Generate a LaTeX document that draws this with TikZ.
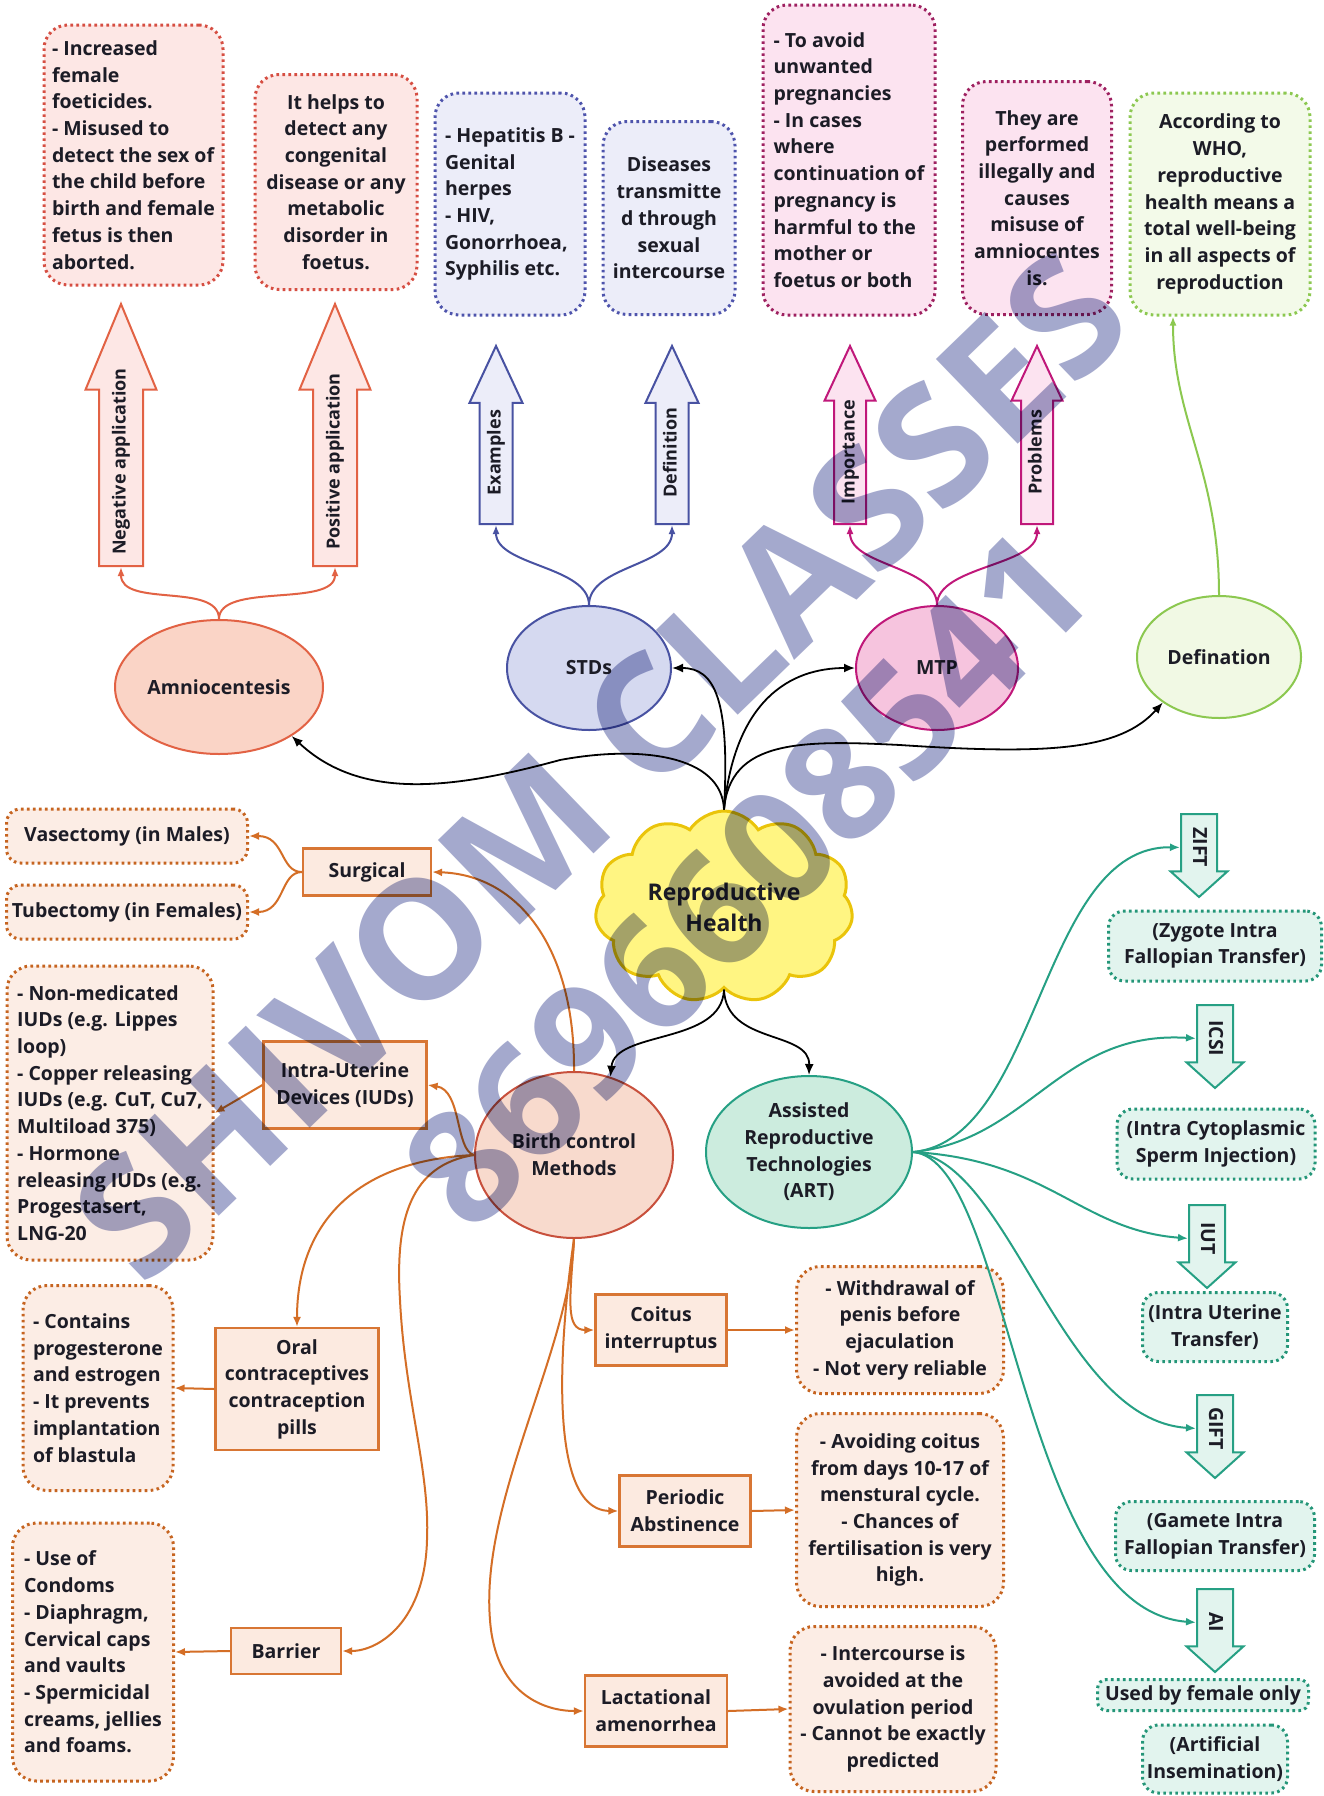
\documentclass[tikz,border=0pt]{standalone}
\usepackage{fontspec}
\setmainfont{Open Sans}
\usetikzlibrary{arrows.meta,shapes.geometric,shapes.arrows,shapes.symbols}

\definecolor{inkColor}{RGB}{28,28,38}
\definecolor{amnioLine}{RGB}{226,98,68}
\definecolor{amnioFill}{RGB}{250,212,198}
\definecolor{amnioNote}{RGB}{253,231,229}
\definecolor{amnioDot}{RGB}{214,78,66}
\definecolor{stdLine}{RGB}{72,82,162}
\definecolor{stdFill}{RGB}{213,217,240}
\definecolor{stdNote}{RGB}{236,237,249}
\definecolor{stdDot}{RGB}{78,84,172}
\definecolor{mtpLine}{RGB}{192,24,122}
\definecolor{mtpFill}{RGB}{246,196,222}
\definecolor{mtpNote}{RGB}{252,227,240}
\definecolor{mtpDot}{RGB}{158,32,96}
\definecolor{defLine}{RGB}{140,200,80}
\definecolor{defFill}{RGB}{241,249,228}
\definecolor{defNote}{RGB}{243,250,233}
\definecolor{cloudLine}{RGB}{234,196,10}
\definecolor{cloudFill}{RGB}{255,245,130}
\definecolor{bcLine}{RGB}{200,80,60}
\definecolor{bcFill}{RGB}{248,218,205}
\definecolor{bcArr}{RGB}{212,110,38}
\definecolor{bcBox}{RGB}{216,118,52}
\definecolor{bcBoxFill}{RGB}{252,234,224}
\definecolor{bcDot}{RGB}{198,100,32}
\definecolor{bcNote}{RGB}{252,237,229}
\definecolor{artLine}{RGB}{38,160,132}
\definecolor{artFill}{RGB}{204,236,222}
\definecolor{artNote}{RGB}{226,244,238}
\definecolor{artDot}{RGB}{36,150,120}
\definecolor{wmColor}{RGB}{164,169,205}

\tikzset{
  txt/.style={text=inkColor,font=\bfseries\fontsize{19.5}{26.7}\selectfont},
  note/.style={txt,draw,line width=3pt,dash pattern=on 2.6pt off 3.4pt,rounded corners=24pt,inner sep=0pt},
  topic/.style={txt,ellipse,draw,line width=2pt,inner sep=0pt,align=center},
  bcbox/.style={txt,draw=bcBox,fill=bcBoxFill,line width=2.2pt,inner sep=0pt,align=center},
  uparr/.style={single arrow,draw,line width=2pt,rotate=90,anchor=tail,text=inkColor,
    font=\bfseries\fontsize{18}{18}\selectfont,text height=13pt,text depth=4pt,inner xsep=3pt},
  downarr/.style={single arrow,draw=artLine,fill=artNote,line width=2pt,rotate=-90,anchor=tail,text=inkColor,
    font=\bfseries\fontsize{19.5}{19.5}\selectfont,text height=14pt,text depth=2pt,inner ysep=9pt,inner xsep=3pt,
    minimum height=83pt,single arrow head extend=10.5pt,single arrow tip angle=96},
  blk/.style={draw=black,line width=1.8pt,-{Latex[length=11pt,width=9pt]}},
  orarr/.style={draw=bcArr,line width=2pt,-{Latex[length=10pt,width=8pt]}},
  tlarr/.style={draw=artLine,line width=2pt,-{Latex[length=10pt,width=8pt]}},
  wmark/.style={text=wmColor,font=\bfseries\fontsize{165}{165}\selectfont,inner sep=0pt}
}

\begin{document}
\begin{tikzpicture}[x=1pt,y=-1pt]
\path[use as bounding box,fill=white] (0,0) rectangle (1323,1796);

\node[note,draw=amnioDot,fill=amnioNote,minimum width=179pt,minimum height=260pt,align=left] (negnote) at (133.5,155) {- Increased\\female\\foeticides.\\- Misused to\\detect the sex of\\the child before\\birth and female\\fetus is then\\aborted.};

\node[note,draw=amnioDot,fill=amnioNote,minimum width=162pt,minimum height=215pt,align=center] (posnote) at (336,182) {It helps to\\detect any\\congenital\\disease or any\\metabolic\\disorder in\\foetus.};

\node[note,draw=stdDot,fill=stdNote,minimum width=150pt,minimum height=222pt,align=left] (hepnote) at (510,204) {- Hepatitis B -\\Genital\\herpes\\- HIV,\\Gonorrhoea,\\Syphilis etc.};

\node[note,draw=stdDot,fill=stdNote,minimum width=132pt,minimum height=193pt,align=center] (disnote) at (669,218) {Diseases\\transmitte\\d through\\sexual\\intercourse};

\node[note,draw=mtpDot,fill=mtpNote,minimum width=172pt,minimum height=310pt,align=left] (impnote) at (849,160) {- To avoid\\unwanted\\pregnancies\\- In cases\\where\\continuation of\\pregnancy is\\harmful to the\\mother or\\foetus or both};

\node[note,draw=mtpDot,fill=mtpNote,minimum width=149pt,minimum height=233pt,align=center] (probnote) at (1037,198) {They are\\performed\\illegally and\\causes\\misuse of\\amniocentes\\is.};

\node[note,draw=defLine,fill=defNote,minimum width=180pt,minimum height=222pt,align=center] (whonote) at (1220,204) {According to\\WHO,\\reproductive\\health means a\\total well-being\\in all aspects of\\reproduction};

\node[uparr,draw=amnioLine,fill=amnioNote,minimum height=262pt,inner ysep=12.5pt,single arrow head extend=13.5pt,single arrow tip angle=45] (neg) at (121,567) {Negative application};

\node[uparr,draw=amnioLine,fill=amnioNote,minimum height=262pt,inner ysep=12.5pt,single arrow head extend=13.5pt,single arrow tip angle=45] (pos) at (335,567) {Positive application};

\node[uparr,draw=stdLine,fill=stdNote,minimum height=178pt,inner ysep=7pt,single arrow head extend=10pt,single arrow tip angle=50] (exa) at (496,525) {Examples};

\node[uparr,draw=stdLine,fill=stdNote,minimum height=178pt,inner ysep=7pt,single arrow head extend=10pt,single arrow tip angle=50] (dfn) at (672,525) {Definition};

\node[uparr,draw=mtpLine,fill=mtpNote,minimum height=178pt,inner ysep=6.5pt,single arrow head extend=9.5pt,single arrow tip angle=50] (imp) at (850,525) {Importance};

\node[uparr,draw=mtpLine,fill=mtpNote,minimum height=178pt,inner ysep=6.5pt,single arrow head extend=9.5pt,single arrow tip angle=50] (prob) at (1037,525) {Problems};

\node[topic,draw=amnioLine,fill=amnioFill,minimum width=208pt,minimum height=134pt] (amnio) at (219,687) {Amniocentesis};

\node[topic,draw=stdLine,fill=stdFill,minimum width=164pt,minimum height=124pt] (stds) at (589,668) {STDs};

\node[topic,draw=mtpLine,fill=mtpFill,minimum width=162pt,minimum height=124pt] (mtp) at (937,668) {MTP};

\node[topic,draw=defLine,fill=defFill,minimum width=164pt,minimum height=122pt] (defn) at (1219,657) {Defination};

\node[cloud,cloud puffs=11,cloud puff arc=115,aspect=1.34,draw=cloudLine,fill=cloudFill,line width=3pt,minimum width=258pt,minimum height=192pt,inner sep=0pt,align=center,text=inkColor,font=\bfseries\fontsize{23}{31}\selectfont] (rh) at (724,907) {Reproductive\\Health};

\node[topic,draw=bcLine,fill=bcFill,minimum width=198pt,minimum height=166pt] (bc) at (574,1155) {Birth control\\Methods};

\node[topic,draw=artLine,fill=artFill,minimum width=206pt,minimum height=152pt] (art) at (809,1152) {Assisted\\Reproductive\\Technologies\\(ART)};

\node[note,draw=bcDot,fill=bcNote,minimum width=241pt,minimum height=54pt,rounded corners=14pt] (vasnote) at (127,836) {Vasectomy (in Males)};

\node[note,draw=bcDot,fill=bcNote,minimum width=241pt,minimum height=54pt,rounded corners=14pt] (tubnote) at (127,912) {Tubectomy (in Females)};

\node[bcbox,minimum width=128pt,minimum height=47pt] (surg) at (367,872) {Surgical};

\node[bcbox,minimum width=163pt,minimum height=87pt] (iud) at (345,1085) {Intra-Uterine\\Devices (IUDs)};

\node[note,draw=bcDot,fill=bcNote,minimum width=206pt,minimum height=294pt,align=left] (iudnote) at (110,1113) {- Non-medicated\\IUDs (e.g. Lippes\\loop)\\- Copper releasing\\IUDs (e.g. CuT, Cu7,\\Multiload 375)\\- Hormone\\releasing IUDs (e.g.\\Progestasert,\\LNG-20};

\node[bcbox,minimum width=163pt,minimum height=122pt] (oral) at (297,1389) {Oral\\contraceptives\\contraception\\pills};

\node[note,draw=bcDot,fill=bcNote,minimum width=150pt,minimum height=205pt,align=left] (oralnote) at (98,1388) {- Contains\\progesterone\\and estrogen\\- It prevents\\implantation\\of blastula};

\node[bcbox,minimum width=110pt,minimum height=46pt] (barrier) at (286,1651) {Barrier};

\node[note,draw=bcDot,fill=bcNote,minimum width=161pt,minimum height=258pt,align=left] (barnote) at (93,1652) {- Use of\\Condoms\\- Diaphragm,\\Cervical caps\\and vaults\\- Spermicidal\\creams, jellies\\and foams.};

\node[bcbox,minimum width=131pt,minimum height=71pt] (coitus) at (661,1330) {Coitus\\interruptus};

\node[note,draw=bcDot,fill=bcNote,minimum width=207pt,minimum height=127pt,align=center] (coitusnote) at (900,1330) {- Withdrawal of\\penis before\\ejaculation\\- Not very reliable};

\node[bcbox,minimum width=131pt,minimum height=71pt] (periodic) at (685,1511) {Periodic\\Abstinence};

\node[note,draw=bcDot,fill=bcNote,minimum width=207pt,minimum height=193pt,align=center] (periodicnote) at (900,1510) {- Avoiding coitus\\from days 10-17 of\\menstural cycle.\\- Chances of\\fertilisation is very\\high.};

\node[bcbox,minimum width=142pt,minimum height=71pt] (lact) at (656,1711) {Lactational\\amenorrhea};

\node[note,draw=bcDot,fill=bcNote,minimum width=206pt,minimum height=165pt,align=center] (lactnote) at (893,1709) {- Intercourse is\\avoided at the\\ovulation period\\- Cannot be exactly\\predicted};

\node[downarr] (zift) at (1199,813) {ZIFT};

\node[note,draw=artDot,fill=artNote,minimum width=213pt,minimum height=70pt,rounded corners=16pt,align=center] (ziftnote) at (1215,946) {(Zygote Intra\\Fallopian Transfer)};

\node[downarr] (icsi) at (1215,1004) {ICSI};

\node[note,draw=artDot,fill=artNote,minimum width=198pt,minimum height=70pt,rounded corners=16pt,align=center] (icsinote) at (1216,1144) {(Intra Cytoplasmic\\Sperm Injection)};

\node[downarr] (iut) at (1207,1204) {IUT};

\node[note,draw=artDot,fill=artNote,minimum width=145pt,minimum height=69pt,rounded corners=16pt,align=center] (iutnote) at (1215,1327) {(Intra Uterine\\Transfer)};

\node[downarr] (gift) at (1215,1394) {GIFT};

\node[note,draw=artDot,fill=artNote,minimum width=199pt,minimum height=69pt,rounded corners=16pt,align=center] (giftnote) at (1215,1536) {(Gamete Intra\\Fallopian Transfer)};

\node[downarr] (ai) at (1215,1588) {AI};

\node[note,draw=artDot,fill=artNote,minimum width=211pt,minimum height=31pt,rounded corners=9pt] (femnote) at (1203,1695) {Used by female only};

\node[note,draw=artDot,fill=artNote,minimum width=145pt,minimum height=68pt,rounded corners=16pt,align=center] (ainote) at (1215,1759) {(Artificial\\Insemination)};

\draw[amnioLine,line width=2pt,-{Latex[length=9pt,width=7pt]}] (amnio.north) .. controls (219,582) and (121,608) .. (neg.tail);
\draw[amnioLine,line width=2pt,-{Latex[length=9pt,width=7pt]}] (amnio.north) .. controls (219,582) and (335,608) .. (pos.tail);
\draw[stdLine,line width=2pt,-{Latex[length=9pt,width=7pt]}] (stds.north) .. controls (589,566) and (496,566) .. (exa.tail);
\draw[stdLine,line width=2pt,-{Latex[length=9pt,width=7pt]}] (stds.north) .. controls (589,566) and (672,566) .. (dfn.tail);
\draw[mtpLine,line width=2pt,-{Latex[length=9pt,width=7pt]}] (mtp.north) .. controls (937,566) and (850,566) .. (imp.tail);
\draw[mtpLine,line width=2pt,-{Latex[length=9pt,width=7pt]}] (mtp.north) .. controls (937,566) and (1037,566) .. (prob.tail);
\draw[defLine,line width=2pt,-{Latex[length=9pt,width=7pt]}] (defn.north) .. controls (1219,470) and (1173,420) .. ([xshift=-47pt]whonote.south);

\draw[blk] (rh.north) .. controls (722,755) and (640,745) .. (560,760) .. controls (450,790) and (360,800) .. (amnio.-34);
\draw[blk] (rh.north) .. controls (730,700) and (715,668) .. (stds.east);
\draw[blk] (rh.north) .. controls (735,700) and (790,668) .. (mtp.west);
\draw[blk] (rh.north) .. controls (730,740) and (800,740) .. (900,745) .. controls (1050,755) and (1120,750) .. (defn.-141);
\draw[blk] (rh.south) .. controls (722,1045) and (615,1030) .. (bc.65);
\draw[blk] (rh.south) .. controls (726,1045) and (810,1030) .. (art.north);

\draw[orarr] (surg.west) .. controls (280,872) and (285,836) .. (vasnote.east);
\draw[orarr] (surg.west) .. controls (280,872) and (285,912) .. (tubnote.east);
\draw[orarr] (bc.north) .. controls (575,950) and (520,875) .. (surg.east);
\draw[orarr] (bc.west) .. controls (455,1150) and (462,1090) .. (iud.east);
\draw[orarr] (iud.west) -- (iudnote.east);
\draw[orarr] (bc.west) .. controls (360,1160) and (297,1220) .. (oral.north);
\draw[orarr] (oral.west) -- (oralnote.east);
\draw[orarr] (bc.west) .. controls (410,1165) and (395,1220) .. (400,1300) .. controls (405,1400) and (430,1470) .. (427,1540) .. controls (425,1620) and (380,1651) .. (barrier.east);
\draw[orarr] (barrier.west) -- (barnote.east);
\draw[orarr] (bc.south) .. controls (570,1300) and (565,1330) .. (coitus.west);
\draw[orarr] (coitus.east) -- (coitusnote.west);
\draw[orarr] (bc.south) .. controls (565,1300) and (540,1510) .. (periodic.west);
\draw[orarr] (periodic.east) -- (periodicnote.west);
\draw[orarr] (bc.south) .. controls (570,1350) and (480,1500) .. (490,1620) .. controls (495,1690) and (540,1711) .. (lact.west);
\draw[orarr] (lact.east) -- (lactnote.west);

\draw[tlarr] (art.east) .. controls (1040,1140) and (1040,845) .. (zift.south);
\draw[tlarr] (art.east) .. controls (1030,1140) and (1060,1030) .. (icsi.south);
\draw[tlarr] (art.east) .. controls (1050,1160) and (1080,1230) .. (iut.south);
\draw[tlarr] (art.east) .. controls (1010,1160) and (1060,1420) .. (gift.south);
\draw[tlarr] (art.east) .. controls (1010,1160) and (1020,1610) .. (ai.south);

\begin{scope}[blend mode=multiply]
\node[wmark,rotate=44] (wmname) at (600,766) {SHIVOM CLASSES};
\node[wmark,rotate=45.5,font=\bfseries\fontsize{157}{157}\selectfont] (wmphone) at (746,879) {8696608541};
\end{scope}
\end{tikzpicture}
\end{document}
